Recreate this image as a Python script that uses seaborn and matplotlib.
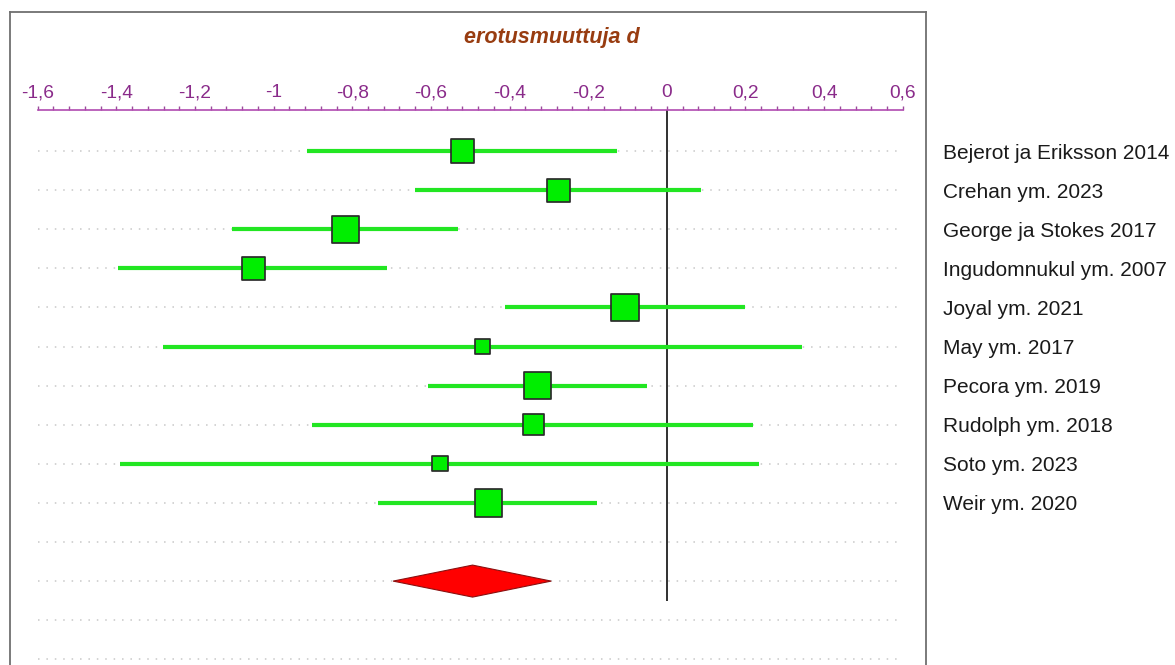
import numpy as np
import pandas as pd
import matplotlib
matplotlib.use("Agg")
import matplotlib.pyplot as plt
import seaborn as sns
from matplotlib.ticker import MultipleLocator, FuncFormatter

# ---------------- data ----------------
studies = ["Bejerot ja Eriksson 2014", "Crehan ym. 2023", "George ja Stokes 2017",
           "Ingudomnukul ym. 2007", "Joyal ym. 2021", "May ym. 2017", "Pecora ym. 2019",
           "Rudolph ym. 2018", "Soto ym. 2023", "Weir ym. 2020"]
d_values = [-0.519, -0.276, -0.818, -1.052, -0.106, -0.468, -0.328, -0.339, -0.577, -0.454]
ci_low = [-0.915, -0.640, -1.106, -1.397, -0.411, -1.282, -0.607, -0.903, -1.390, -0.735]
ci_high = [-0.127, 0.086, -0.532, -0.711, 0.199, 0.343, -0.051, 0.220, 0.235, -0.178]
weights = [9.8, 9.8, 13.3, 9.8, 13.3, 4.6, 13.3, 8.3, 4.6, 13.3]
pooled = {"d": -0.494, "low": -0.696, "high": -0.294}
axis_title = "erotusmuuttuja d"
x_min, x_max = -1.6, 0.6
major_step, minor_step = 0.2, 0.04

# ---------------- style ----------------
sns.set_style("white")
plt.rcParams["font.family"] = ["Liberation Sans", "DejaVu Sans"]
plt.rcParams["axes.unicode_minus"] = False

W, H = 1175, 665
DPI = 100
fig = plt.figure(figsize=(W / DPI, H / DPI), dpi=DPI)

# layout in pixels
frame_l, frame_r, frame_t, frame_b = 10, 926, 12, 675
x0_px, x1_px = 37.7, 902.7
row0_px, row_step = 151.0, 39.1
ruler_px = 110.0

ppu = (x1_px - x0_px) / (x_max - x_min)
ax = fig.add_axes([frame_l / W, 1 - frame_b / H, (frame_r - frame_l) / W, (frame_b - frame_t) / H])
ax.set_xlim(x_min - (x0_px - frame_l) / ppu, x_max + (frame_r - x1_px) / ppu)
ax.set_ylim((frame_b - row0_px) / row_step, (frame_t - row0_px) / row_step)

n = len(studies)
rows = np.arange(n)
pooled_row = n + 1
grid_rows = np.arange(n + 4)
ruler_y = (ruler_px - row0_px) / row_step

df = pd.DataFrame({"study": studies, "d": d_values, "low": ci_low, "high": ci_high,
                   "w": weights, "row": rows})

# dotted guide lines
ax.hlines(grid_rows, x_min, x_max, colors="#c8c8c8", linewidth=1.1,
          linestyles=(0, (1, 4.5)), zorder=1)

# zero line
ax.vlines(0, ruler_y, pooled_row + 0.5, colors="#202020", linewidth=1.3, zorder=2)

# confidence intervals
ax.hlines(df["row"], df["low"], df["high"], colors="#22e622", linewidth=3.0, zorder=3)

# squares sized by weight (area ~ weight)
edge_lw = 1.25
side_px = 7.95 * np.sqrt(df["w"].to_numpy())
side_pt = side_px * 72 / DPI - edge_lw
sns.scatterplot(data=df, x="d", y="row", marker="s", s=side_pt ** 2, color="#00ee00",
                edgecolor="#2b2b2b", linewidth=edge_lw, ax=ax, legend=False, zorder=4)

# pooled diamond
dh = 16.0 / row_step
ax.fill([pooled["low"], pooled["d"], pooled["high"], pooled["d"]],
        [pooled_row, pooled_row - dh, pooled_row, pooled_row + dh],
        facecolor="#ff0000", edgecolor="#8a1010", linewidth=0.8, zorder=4)

# frame
for side in ["left", "top", "right", "bottom"]:
    ax.spines[side].set_visible(True)
    ax.spines[side].set_color("#707070")
    ax.spines[side].set_linewidth(1.3)
ax.set_xticks([])
ax.set_xlabel("")
ax.set_ylabel("")

# study labels on the right
ax.yaxis.tick_right()
ax.set_yticks(rows)
ax.set_yticklabels(studies)
ax.tick_params(axis="y", length=0, pad=12.5, labelsize=15.0, labelcolor="#1a1a1a")

# ruler axis at the top
rax = fig.add_axes([x0_px / W, 1 - (ruler_px + 10) / H, (x1_px - x0_px) / W, 10 / H])
rax.patch.set_visible(False)
rax.set_xlim(x_min, x_max)
rax.set_ylim(0, 1)
for side in ["left", "right", "bottom"]:
    rax.spines[side].set_visible(False)
rax.spines["top"].set_visible(True)
rax.spines["top"].set_color("#b04ab0")
rax.spines["top"].set_linewidth(1.2)
rax.set_yticks([])
rax.xaxis.tick_top()
rax.xaxis.set_major_locator(MultipleLocator(major_step))
rax.xaxis.set_minor_locator(MultipleLocator(minor_step))
rax.xaxis.set_major_formatter(FuncFormatter(
    lambda v, p: f"{v:.1f}".rstrip("0").rstrip(".").replace(".", ",") if abs(v) > 1e-9 else "0"))
rax.tick_params(axis="x", which="both", direction="out", length=2.8, width=1.0,
                color="#9a4a9a", top=True, bottom=False)
rax.tick_params(axis="x", which="major", pad=3.5, labelsize=13.8, labelcolor="#8a2b8a")

# title
fig.text(551.5 / W, 1 - 43 / H, axis_title, ha="center", va="baseline",
         fontsize=15.5, fontweight="bold", fontstyle="italic", color="#983c10")

fig.savefig("out.png", dpi=DPI)
